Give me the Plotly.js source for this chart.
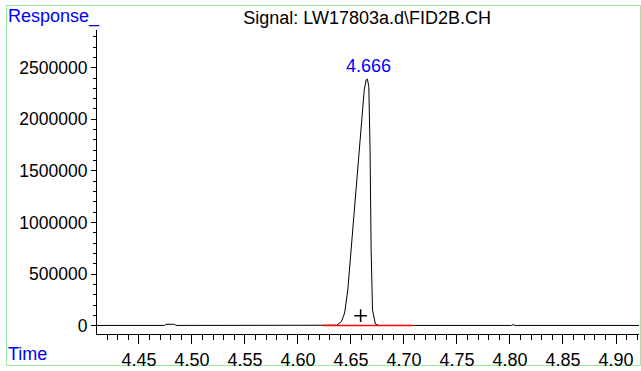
<!DOCTYPE html>
<html>
<head>
<meta charset="utf-8">
<script src="https://cdn.plot.ly/plotly-3.0.1.min.js"></script>
<style>
html,body{margin:0;padding:0;background:#fff;}
#chart{width:641px;height:371px;}
</style>
</head>
<body>
<div id="chart"></div>
<script>
// Chromatogram signal (retention time in min, response)
const time = [4.4104, 4.4700, 4.4740, 4.4755, 4.4835, 4.4850, 4.5000, 4.6200, 4.6320, 4.6365, 4.6410, 4.6440, 4.6470, 4.6500, 4.6540, 4.6570, 4.6600, 4.6625, 4.6643, 4.6655, 4.6668, 4.6680, 4.6690, 4.6703, 4.6730, 4.6760, 4.8000, 4.8015, 4.8030, 4.8045, 4.8060, 4.9217];
const response = [3000, 3000, 3000, 14000, 14000, 3000, 3000, 3000, 3000, 5000, 40000, 124000, 347000, 734000, 1219000, 1638000, 2026000, 2285000, 2382000, 2389000, 2316000, 1704000, 734000, 153000, 17000, 3000, 3000, 3000, 12000, 3000, 3000, 3000];

// Integration baseline (red)
const baseTime = [4.6236, 4.7088];
const baseResp = [3000, 3000];

// Integration marker "+"
const markTime = [4.6591];
const markResp = [98000];

// Peak label
const peakTime = 4.6655;
const peakResp = 2389000;
const peakLabel = "4.666";

const yTicks = [0, 500000, 1000000, 1500000, 2000000, 2500000];
const xTicks = [4.45, 4.50, 4.55, 4.60, 4.65, 4.70, 4.75, 4.80, 4.85, 4.90];
const xTickText = ["4.45", "4.50", "4.55", "4.60", "4.65", "4.70", "4.75", "4.80", "4.85", "4.90"];

const titleText = "Signal: LW17803a.d\\FID2B.CH";

const FONT = "Liberation Sans, Arial, sans-serif";
const L = 97, R = 2, T = 30, B = 37;
const W = 641, H = 371;
const pw = W - L - R, ph = H - T - B;
const px2paperX = p => (p - L) / pw;
const px2paperY = p => (H - B - p) / ph;

const traces = [
  {x: time, y: response, type: 'scatter', mode: 'lines',
   line: {color: '#000000', width: 1}, hoverinfo: 'skip'},
  {x: baseTime, y: baseResp, type: 'scatter', mode: 'lines',
   line: {color: '#ff0000', width: 1.5}, hoverinfo: 'skip'},
  {x: markTime, y: markResp, type: 'scatter', mode: 'markers',
   marker: {symbol: 'cross-thin', size: 9, color: '#000', line: {color: '#000', width: 1.5}}, hoverinfo: 'skip'}
];

const layout = {
  width: W, height: H,
  margin: {l: L, r: R, t: T, b: B, pad: 0},
  paper_bgcolor: '#ffffff', plot_bgcolor: '#ffffff',
  showlegend: false,
  font: {family: FONT, size: 18, color: '#000'},
  title: {text: titleText, x: 367.2 / W, xanchor: 'center', xref: 'container',
          y: 1 - 18 / H, yanchor: 'middle', yref: 'container',
          font: {family: FONT, size: 18, color: '#000'}},
  xaxis: {
    range: [4.4104, 4.9217], showgrid: false, zeroline: false,
    showline: true, linecolor: '#000', linewidth: 1,
    tickmode: 'array', tickvals: xTicks, ticktext: xTickText,
    ticks: 'outside', ticklen: 9, tickwidth: 1, tickcolor: '#000',
    tickfont: {family: FONT, size: 18, color: '#000'},
    minor: {dtick: 0.01, tick0: 4.45, ticks: 'outside', ticklen: 5, tickwidth: 1, tickcolor: '#000', showgrid: false},
    fixedrange: true
  },
  yaxis: {
    range: [-80000, 2865000], showgrid: false, zeroline: false,
    showline: true, linecolor: '#000', linewidth: 1,
    tickmode: 'array', tickvals: yTicks, tickformat: 'd',
    ticks: 'outside', ticklen: 5, tickwidth: 1, tickcolor: '#000',
    tickfont: {family: FONT, size: 17.5, color: '#000'},
    minor: {dtick: 100000, tick0: 0, ticks: 'outside', ticklen: 3, tickwidth: 1, tickcolor: '#000', showgrid: false},
    fixedrange: true
  },
  annotations: [
    {x: peakTime, y: peakResp, xref: 'x', yref: 'y', text: peakLabel, showarrow: false,
     xanchor: 'center', yanchor: 'bottom', yshift: 1, xshift: 1,
     font: {family: FONT, size: 18, color: '#0000ff'}},
    {x: px2paperX(6), y: px2paperY(17), xref: 'paper', yref: 'paper', text: 'Response_',
     showarrow: false, xanchor: 'left', yanchor: 'middle',
     font: {family: FONT, size: 18, color: '#0000ff'}},
    {x: px2paperX(6), y: px2paperY(354), xref: 'paper', yref: 'paper', text: 'Time',
     showarrow: false, xanchor: 'left', yanchor: 'middle',
     font: {family: FONT, size: 18, color: '#0000ff'}}
  ],
  shapes: [
    {type: 'rect', xref: 'paper', yref: 'paper',
     x0: px2paperX(6.5), x1: px2paperX(640.5), y0: px2paperY(365.5), y1: px2paperY(5.5),
     line: {color: '#99ee99', width: 1}, fillcolor: 'rgba(0,0,0,0)', layer: 'below'}
  ]
};

Plotly.newPlot('chart', traces, layout, {staticPlot: true, displayModeBar: false});
</script>
</body>
</html>
